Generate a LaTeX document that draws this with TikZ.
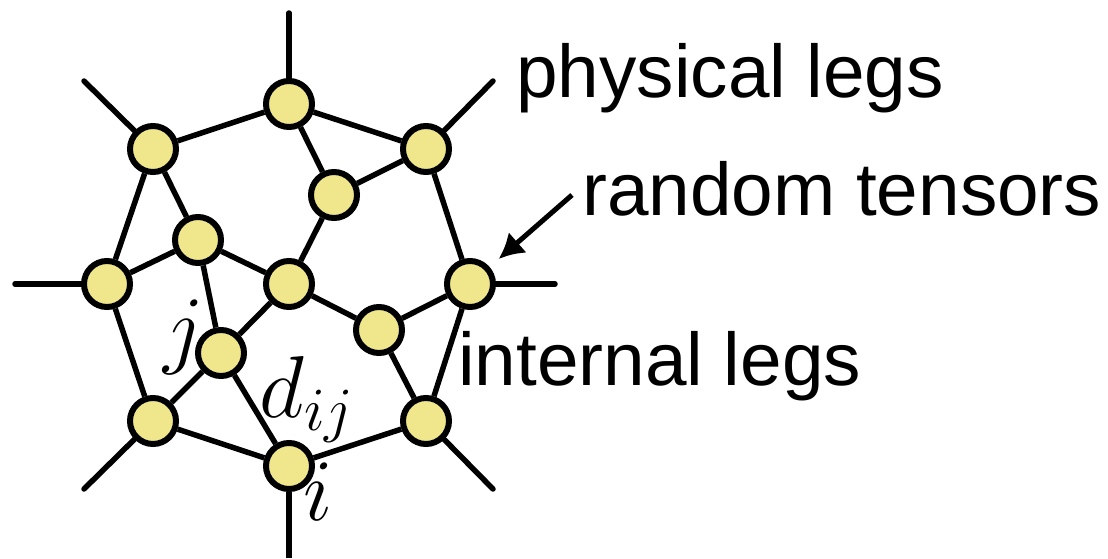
\RequirePackage{fix-cm}
\documentclass[tikz,border=0pt]{standalone}
\usepackage{fontspec}
\newfontfamily\legendfont{Liberation Sans}
\usepackage{tikz}
\usetikzlibrary{arrows.meta}
\definecolor{tensoryellow}{RGB}{240,230,140}

\begin{document}
\begin{tikzpicture}[
		tensor/.style={circle, draw, fill=tensoryellow, line width=0.12cm, minimum size=0.92cm, inner sep=0pt},
		bond/.style={line width=0.11cm},
		leg/.style={line width=0.11cm, line cap=round},
		pointer/.style={line width=0.1cm, -{Latex[length=0.5cm, width=0.55cm]}},
		legend/.style={anchor=base west, inner sep=0pt, font=\legendfont\fontsize{42.5}{50}\selectfont},
		index/.style={inner sep=0pt, font=\fontsize{50}{60}\selectfont}]
				\useasboundingbox (0,0) rectangle (22.16, 11.16);
				% Tensors:
				\node[tensor](T1) at (5.78, 9.08){};
				\node[tensor](T2) at (3.06, 8.18){};
				\node[tensor](T3) at (8.52, 8.18){};
				\node[tensor](T4) at (6.68, 7.26){};
				\node[tensor](T5) at (3.96, 6.36){};
				\node[tensor](T6) at (2.14, 5.48){};
				\node[tensor](T7) at (5.78, 5.48){};
				\node[tensor](T8) at (9.40, 5.48){};
				\node[tensor](T9) at (7.58, 4.56){};
				\node[tensor](T10) at (4.42, 4.10){};
				\node[tensor](T11) at (3.06, 2.74){};
				\node[tensor](T12) at (8.52, 2.74){};
				\node[tensor](T13) at (5.78, 1.84){};
				% Internal legs:
				\draw[bond] (T1) -- (T2);
				\draw[bond] (T1) -- (T3);
				\draw[bond] (T1) -- (T4);
				\draw[bond] (T2) -- (T6);
				\draw[bond] (T2) -- (T5);
				\draw[bond] (T3) -- (T4);
				\draw[bond] (T3) -- (T8);
				\draw[bond] (T4) -- (T7);
				\draw[bond] (T5) -- (T6);
				\draw[bond] (T5) -- (T7);
				\draw[bond] (T5) -- (T10);
				\draw[bond] (T6) -- (T11);
				\draw[bond] (T7) -- (T10);
				\draw[bond] (T7) -- (T9);
				\draw[bond] (T9) -- (T8);
				\draw[bond] (T9) -- (T12);
				\draw[bond] (T8) -- (T12);
				\draw[bond] (T10) -- (T11);
				\draw[bond] (T10) -- (T13);
				\draw[bond] (T11) -- (T13);
				\draw[bond] (T13) -- (T12);
				% Physical legs:
				\coordinate (L1) at (5.78, 10.90);
				\coordinate (L2) at (1.68, 9.54);
				\coordinate (L3) at (9.86, 9.54);
				\coordinate (L4) at (0.30, 5.48);
				\coordinate (L5) at (11.10, 5.48);
				\coordinate (L6) at (1.68, 1.38);
				\coordinate (L7) at (9.86, 1.38);
				\coordinate (L8) at (5.78, 0);
				\draw[leg] (T1) -- (L1);
				\draw[leg] (T2) -- (L2);
				\draw[leg] (T3) -- (L3);
				\draw[leg] (T6) -- (L4);
				\draw[leg] (T8) -- (L5);
				\draw[leg] (T11) -- (L6);
				\draw[leg] (T12) -- (L7);
				\draw[bond] (T13) -- (L8);
				% Indices:
				\node[index](Nj) at (3.68, 4.42){$j$};
				\node[index, anchor=base west](Nd) at (5.18, 2.82){$d_{ij}$};
				\node[index, anchor=base west](Ni) at (6.06, 0.76){$i$};
				% Legend:
				\node[legend](Phys) at (10.32, 9.20){physical legs};
				\node[legend](Rand) at (11.64, 6.86){random tensors};
				\node[legend](Intl) at (9.16, 3.46){internal legs};
				\coordinate (A1) at (11.44, 7.26);
				\draw[pointer, shorten >=0.24cm] (A1) -- (T8);
\end{tikzpicture}
\end{document}
